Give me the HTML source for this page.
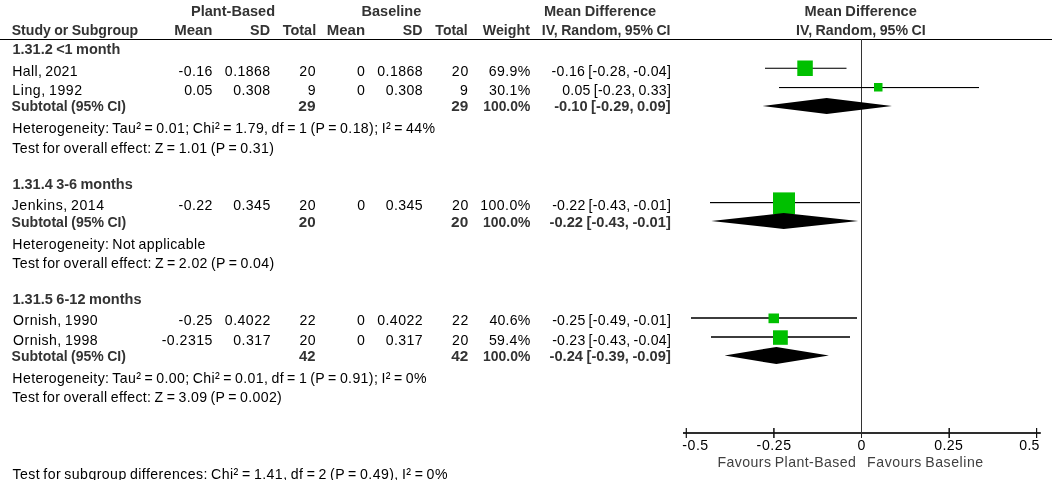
<!DOCTYPE html>
<html><head><meta charset="utf-8"><style>
html,body{margin:0;padding:0;background:#fff;}
body{width:1052px;height:480px;overflow:hidden;}
svg{display:block;will-change:transform;}
text{font-family:"Liberation Sans",sans-serif;font-size:15.2px;fill:#000;word-spacing:-1.2px;}
text.b{font-weight:bold;font-size:15.2px;fill:#333;word-spacing:-0.6px;}
</style></head><body>
<svg width="1052" height="480" viewBox="0 0 1052 480">
<g id="shapes">
<rect x="0" y="39" width="1052" height="1" fill="#000"/>
<rect x="861" y="39" width="1" height="394" fill="#333"/>
<rect x="861" y="433" width="1" height="5" fill="#222"/>
<rect x="683" y="432" width="357.8" height="2" fill="#2e2e2e"/>
<rect x="685.7" y="428" width="1.2" height="10" fill="#111"/>
<rect x="773.15" y="428" width="1.5" height="10" fill="#111"/>
<rect x="948.45" y="428" width="1.5" height="10" fill="#111"/>
<rect x="1036.0" y="428" width="1.2" height="10" fill="#111"/>
<rect x="765" y="67.7" width="81.5" height="1.2" fill="#222"/>
<rect x="779" y="87" width="200" height="1.1" fill="#000"/>
<rect x="710" y="202" width="150" height="1.2" fill="#000"/>
<rect x="691" y="317" width="166" height="2" fill="#3c3c3c"/>
<rect x="711" y="336" width="139" height="2" fill="#3c3c3c"/>
<rect x="797.3" y="60.5" width="15.50" height="15.50" fill="#00c000"/>
<rect x="874" y="83" width="8.50" height="8.50" fill="#00c000"/>
<rect x="773" y="192.4" width="22.00" height="22.00" fill="#00c000"/>
<rect x="768.5" y="313.5" width="10.50" height="9.70" fill="#00c000"/>
<rect x="773" y="330.3" width="14.80" height="14.50" fill="#00c000"/>
<polygon points="762.5,106 826.7,98 892,106 826.7,114" fill="#000"/>
<polygon points="711.3,221 783.7,213 858.2,221 783.7,229" fill="#000"/>
<polygon points="724.6,355.5 776.4,347 828.9,355.5 776.4,364" fill="#000"/>
</g>
<text id="t0" transform="translate(190.96 15.58) scale(0.9583 1)" class="b">Plant-Based</text>
<text id="t1" transform="translate(361.49 15.58) scale(0.9567 1)" class="b">Baseline</text>
<text id="t2" transform="translate(543.91 15.58) scale(0.9617 1)" class="b">Mean Difference</text>
<text id="t3" transform="translate(804.51 15.58) scale(0.9618 1)" class="b">Mean Difference</text>
<text id="t4" transform="translate(11.66 34.58) scale(0.9284 1)" class="b">Study or Subgroup</text>
<text id="t5" transform="translate(174.14 34.58) scale(0.9891 1)" class="b">Mean</text>
<text id="t6" transform="translate(250.08 34.58) scale(0.9446 1)" class="b">SD</text>
<text id="t7" transform="translate(282.63 34.58) scale(0.9542 1)" class="b">Total</text>
<text id="t8" transform="translate(326.71 34.58) scale(0.9875 1)" class="b">Mean</text>
<text id="t9" transform="translate(402.72 34.58) scale(0.9353 1)" class="b">SD</text>
<text id="t10" transform="translate(435.37 34.58) scale(0.9209 1)" class="b">Total</text>
<text id="t11" transform="translate(482.76 34.58) scale(0.9366 1)" class="b">Weight</text>
<text id="t12" transform="translate(541.83 34.58) scale(0.9286 1)" class="b">IV, Random, 95% CI</text>
<text id="t13" transform="translate(796.06 34.58) scale(0.9357 1)" class="b">IV, Random, 95% CI</text>
<text id="t14" transform="translate(12.47 54.33) scale(0.9530 1)" class="b">1.31.2 &lt;1 month</text>
<text id="t15" transform="translate(12.36 75.68) scale(0.9300 1)" letter-spacing="0.337">Hall, 2021</text>
<text id="t16" transform="translate(178.49 75.68) scale(0.9300 1)" letter-spacing="0.477">-0.16</text>
<text id="t17" transform="translate(224.86 75.68) scale(0.9300 1)" letter-spacing="0.460">0.1868</text>
<text id="t18" transform="translate(299.27 75.68) scale(0.9300 1)" letter-spacing="0.563">20</text>
<text id="t19" transform="translate(357.11 75.68) scale(0.9300 1)">0</text>
<text id="t20" transform="translate(377.31 75.68) scale(0.9300 1)" letter-spacing="0.482">0.1868</text>
<text id="t21" transform="translate(451.68 75.68) scale(0.9300 1)" letter-spacing="0.964">20</text>
<text id="t22" transform="translate(488.64 75.68) scale(0.9300 1)" letter-spacing="0.424">69.9%</text>
<text id="t23" transform="translate(551.58 75.68) scale(0.9300 1)" letter-spacing="0.303">-0.16 [-0.28, -0.04]</text>
<text id="t24" transform="translate(12.36 94.88) scale(0.9300 1)" letter-spacing="0.579">Ling, 1992</text>
<text id="t25" transform="translate(184.25 94.88) scale(0.9300 1)" letter-spacing="0.249">0.05</text>
<text id="t26" transform="translate(233.20 94.88) scale(0.9300 1)" letter-spacing="0.441">0.308</text>
<text id="t27" transform="translate(307.83 94.88) scale(0.9300 1)">9</text>
<text id="t28" transform="translate(357.10 94.88) scale(0.9300 1)">0</text>
<text id="t29" transform="translate(385.71 94.88) scale(0.9300 1)" letter-spacing="0.449">0.308</text>
<text id="t30" transform="translate(460.10 94.88) scale(0.9300 1)">9</text>
<text id="t31" transform="translate(489.08 94.88) scale(0.9300 1)" letter-spacing="0.305">30.1%</text>
<text id="t32" transform="translate(562.26 94.88) scale(0.9300 1)" letter-spacing="0.257">0.05 [-0.23, 0.33]</text>
<text id="t33" transform="translate(11.55 111.48) scale(0.9239 1)" class="b">Subtotal (95% CI)</text>
<text id="t34" transform="translate(298.31 111.48) scale(1.0187 1)" class="b">29</text>
<text id="t35" transform="translate(451.30 111.48) scale(1.0095 1)" class="b">29</text>
<text id="t36" transform="translate(483.28 111.48) scale(0.9113 1)" class="b">100.0%</text>
<text id="t37" transform="translate(554.13 111.48) scale(0.9681 1)" class="b">-0.10 [-0.29, 0.09]</text>
<text id="t38" transform="translate(12.36 133.48) scale(0.9300 1)" letter-spacing="0.405">Heterogeneity: Tau² = 0.01; Chi² = 1.79, df = 1 (P = 0.18); I² = 44%</text>
<text id="t39" transform="translate(12.30 152.63) scale(0.9300 1)" letter-spacing="0.390">Test for overall effect: Z = 1.01 (P = 0.31)</text>
<text id="t40" transform="translate(12.47 188.78) scale(0.9531 1)" class="b">1.31.4 3-6 months</text>
<text id="t41" transform="translate(11.68 210.33) scale(0.9300 1)" letter-spacing="0.567">Jenkins, 2014</text>
<text id="t42" transform="translate(178.49 210.33) scale(0.9300 1)" letter-spacing="0.479">-0.22</text>
<text id="t43" transform="translate(233.20 210.33) scale(0.9300 1)" letter-spacing="0.460">0.345</text>
<text id="t44" transform="translate(299.27 210.33) scale(0.9300 1)" letter-spacing="0.563">20</text>
<text id="t45" transform="translate(357.19 210.33) scale(0.9300 1)">0</text>
<text id="t46" transform="translate(385.84 210.33) scale(0.9300 1)" letter-spacing="0.403">0.345</text>
<text id="t47" transform="translate(451.93 210.33) scale(0.9300 1)" letter-spacing="0.700">20</text>
<text id="t48" transform="translate(480.36 210.33) scale(0.9300 1)" letter-spacing="0.429">100.0%</text>
<text id="t49" transform="translate(552.13 210.33) scale(0.9300 1)" letter-spacing="0.271">-0.22 [-0.43, -0.01]</text>
<text id="t50" transform="translate(11.54 226.68) scale(0.9271 1)" class="b">Subtotal (95% CI)</text>
<text id="t51" transform="translate(298.84 226.68) scale(0.9974 1)" class="b">20</text>
<text id="t52" transform="translate(451.08 226.68) scale(1.0131 1)" class="b">20</text>
<text id="t53" transform="translate(483.07 226.68) scale(0.9173 1)" class="b">100.0%</text>
<text id="t54" transform="translate(549.56 226.68) scale(0.9665 1)" class="b">-0.22 [-0.43, -0.01]</text>
<text id="t55" transform="translate(12.36 248.73) scale(0.9300 1)" letter-spacing="0.385">Heterogeneity: Not applicable</text>
<text id="t56" transform="translate(12.30 267.68) scale(0.9300 1)" letter-spacing="0.398">Test for overall effect: Z = 2.02 (P = 0.04)</text>
<text id="t57" transform="translate(12.43 303.83) scale(0.9578 1)" class="b">1.31.5 6-12 months</text>
<text id="t58" transform="translate(13.08 325.48) scale(0.9300 1)" letter-spacing="0.467">Ornish, 1990</text>
<text id="t59" transform="translate(178.49 325.48) scale(0.9300 1)" letter-spacing="0.475">-0.25</text>
<text id="t60" transform="translate(224.84 325.48) scale(0.9300 1)" letter-spacing="0.502">0.4022</text>
<text id="t61" transform="translate(299.49 325.48) scale(0.9300 1)" letter-spacing="0.356">22</text>
<text id="t62" transform="translate(357.11 325.48) scale(0.9300 1)">0</text>
<text id="t63" transform="translate(377.15 325.48) scale(0.9300 1)" letter-spacing="0.509">0.4022</text>
<text id="t64" transform="translate(451.93 325.48) scale(0.9300 1)" letter-spacing="0.760">22</text>
<text id="t65" transform="translate(489.45 325.48) scale(0.9300 1)" letter-spacing="0.207">40.6%</text>
<text id="t66" transform="translate(552.13 325.48) scale(0.9300 1)" letter-spacing="0.271">-0.25 [-0.49, -0.01]</text>
<text id="t67" transform="translate(13.08 344.58) scale(0.9300 1)" letter-spacing="0.476">Ornish, 1998</text>
<text id="t68" transform="translate(161.63 344.58) scale(0.9300 1)" letter-spacing="0.522">-0.2315</text>
<text id="t69" transform="translate(233.23 344.58) scale(0.9300 1)" letter-spacing="0.522">0.317</text>
<text id="t70" transform="translate(299.49 344.58) scale(0.9300 1)" letter-spacing="0.324">20</text>
<text id="t71" transform="translate(357.11 344.58) scale(0.9300 1)">0</text>
<text id="t72" transform="translate(385.84 344.58) scale(0.9300 1)" letter-spacing="0.409">0.317</text>
<text id="t73" transform="translate(451.93 344.58) scale(0.9300 1)" letter-spacing="0.700">20</text>
<text id="t74" transform="translate(488.93 344.58) scale(0.9300 1)" letter-spacing="0.346">59.4%</text>
<text id="t75" transform="translate(552.13 344.58) scale(0.9300 1)" letter-spacing="0.271">-0.23 [-0.43, -0.04]</text>
<text id="t76" transform="translate(11.55 361.48) scale(0.9239 1)" class="b">Subtotal (95% CI)</text>
<text id="t77" transform="translate(299.01 361.48) scale(0.9753 1)" class="b">42</text>
<text id="t78" transform="translate(451.27 361.48) scale(1.0107 1)" class="b">42</text>
<text id="t79" transform="translate(483.07 361.48) scale(0.9173 1)" class="b">100.0%</text>
<text id="t80" transform="translate(549.56 361.48) scale(0.9665 1)" class="b">-0.24 [-0.39, -0.09]</text>
<text id="t81" transform="translate(12.36 383.08) scale(0.9300 1)" letter-spacing="0.400">Heterogeneity: Tau² = 0.00; Chi² = 0.01, df = 1 (P = 0.91); I² = 0%</text>
<text id="t82" transform="translate(12.30 402.21) scale(0.9300 1)" letter-spacing="0.383">Test for overall effect: Z = 3.09 (P = 0.002)</text>
<text id="t83" transform="translate(682.30 450.18) scale(0.9300 1)" letter-spacing="0.557">-0.5</text>
<text id="t84" transform="translate(756.61 450.18) scale(0.9300 1)" letter-spacing="0.627">-0.25</text>
<text id="t85" transform="translate(857.39 450.18) scale(0.9300 1)">0</text>
<text id="t86" transform="translate(934.21 450.18) scale(0.9300 1)" letter-spacing="0.436">0.25</text>
<text id="t87" transform="translate(1019.35 450.18) scale(0.9300 1)" letter-spacing="0.266">0.5</text>
<text id="t88" transform="translate(717.43 466.68) scale(0.9300 1)" letter-spacing="0.468" style="fill:#404040">Favours Plant-Based</text>
<text id="t89" transform="translate(867.12 466.68) scale(0.9300 1)" letter-spacing="0.579" style="fill:#404040">Favours Baseline</text>
<text id="t90" transform="translate(12.42 478.68) scale(0.9300 1)" letter-spacing="0.470">Test for subgroup differences: Chi² = 1.41, df = 2 (P = 0.49), I² = 0%</text>
</svg>
</body></html>
